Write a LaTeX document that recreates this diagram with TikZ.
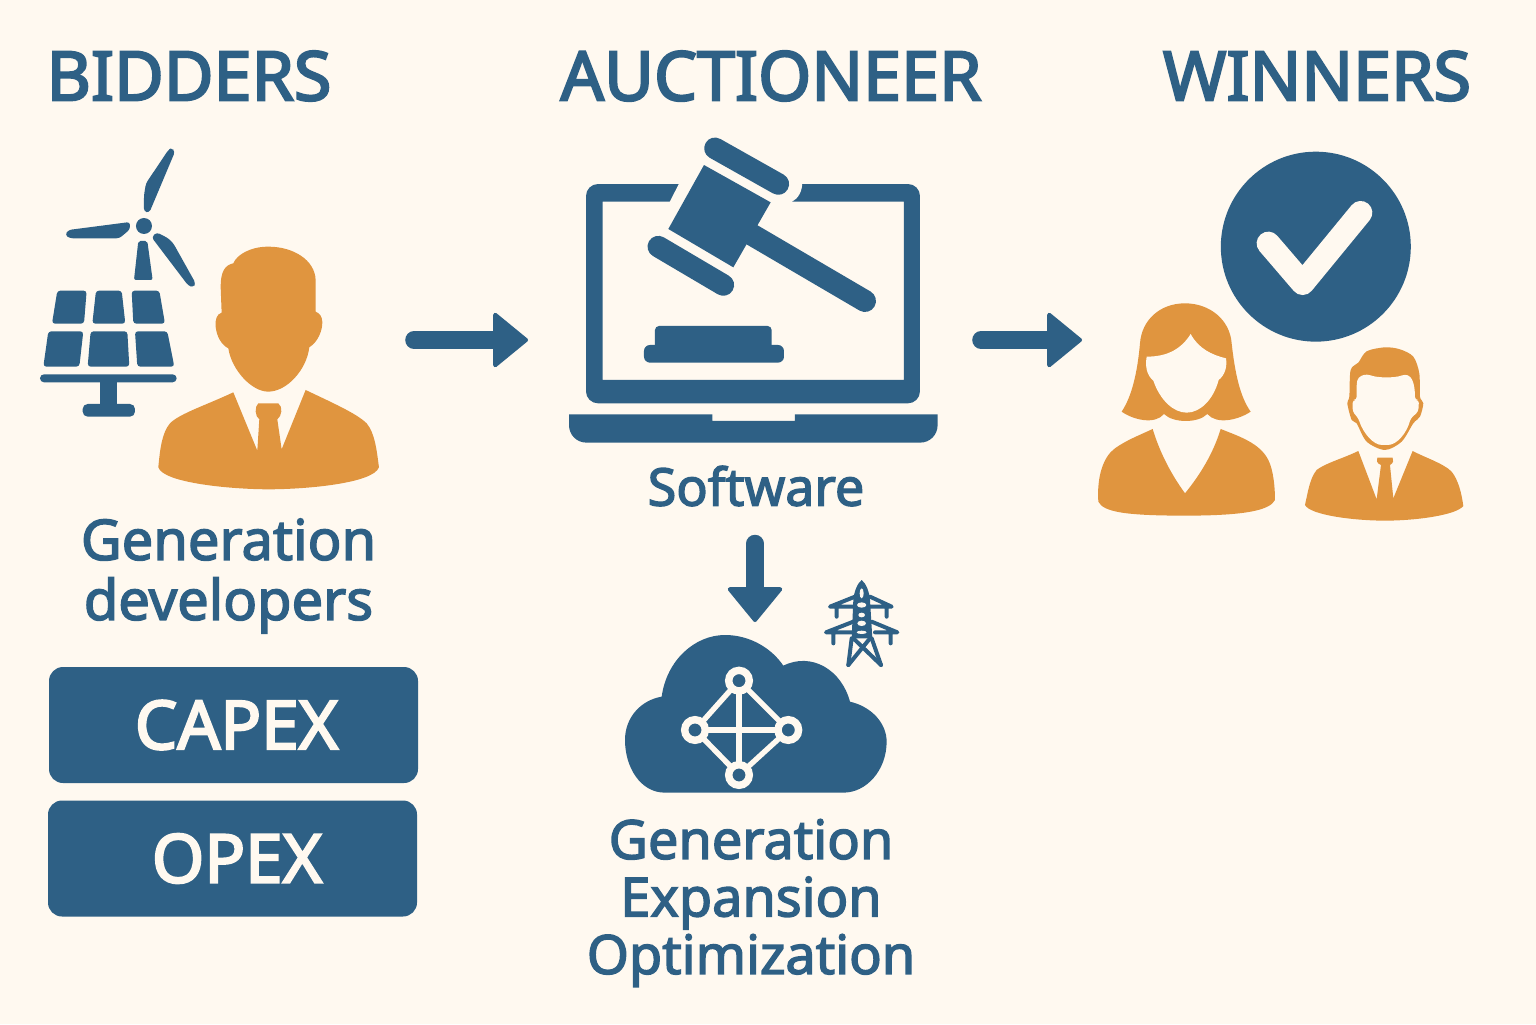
\documentclass[tikz,border=0pt]{standalone}
\usepackage{fontspec}
\setmainfont{Noto Sans}
\newfontfamily\semifont[FakeBold=2.6]{Noto Sans}
\newfontfamily\titlefont[FakeBold=3.2]{Noto Sans}
\usetikzlibrary{arrows.meta}
\definecolor{paper}{RGB}{255,249,240}
\definecolor{steel}{RGB}{46,96,133}
\definecolor{amber}{RGB}{224,149,63}
\begin{document}
\begin{tikzpicture}[x=0.5pt,y=-0.5pt,
    heading/.style={text=steel,font=\fontsize{34.1}{36}\selectfont\titlefont,inner sep=0pt},
    caption/.style={text=steel,align=center,inner sep=0pt,font=\fontsize{27}{28.75}\selectfont\semifont},
    costbox/.style={fill=steel,text=paper,rounded corners=7pt,minimum width=184.5pt,minimum height=58pt,inner sep=0pt,font=\fontsize{33.7}{36}\selectfont\titlefont},
    iconslot/.style={inner sep=0pt,outer sep=0pt},
    flowarrow/.style={steel,line width=8.8pt,line cap=round,-{Triangle[width=29pt,length=18pt,round,line width=2pt]}},
    netnode/.style={circle,draw=paper,fill=steel,line width=3.7pt,minimum size=10.3pt,inner sep=0pt,outer sep=0pt},
    netlink/.style={paper,line width=2.7pt},
    pad/.style={steel,line width=10.8pt,line cap=round},
    lattice/.style={steel,line width=2pt,line cap=round,line join=round},
    panel/.style={fill=steel,rounded corners=1.5pt}]
    \useasboundingbox (0,0) rectangle (1536,1024);
    \fill[paper] (0,0) rectangle (1536,1024);

    % Titulos
    \node[heading] (bidTitle) at (189,76) {BIDDERS};
    \node[heading] (aucTitle) at (771,76) {AUCTIONEER};
    \node[heading] (winTitle) at (1317,76) {WINNERS};

    % Zonas de iconos para las flechas
    \node[iconslot,minimum width=187pt,minimum height=20pt] (bidderIcon) at (227,340) {};
    \node[iconslot,minimum width=226.5pt,minimum height=20pt] (laptopIcon) at (754.5,340) {};
    \node[iconslot,minimum width=198pt,minimum height=20pt] (winnerIcon) at (1280,340) {};
    \node[iconslot,minimum width=130pt,minimum height=88pt] (cloudIcon) at (755,710) {};

    % Turbina y panel solar
    \begin{scope}[shift={(20,130)},scale=0.3333]
        \fill[steel] (372,288) circle (24);
        \fill[steel,rounded corners=1.5pt] (372,245) -- (372,195) -- (378,160) -- (445,60) -- (455,53) -- (465,65) -- (388,248) -- cycle;
        \fill[steel,rounded corners=1.5pt] (330,276) -- (330,298) -- (298,325) -- (150,325) -- (135,315) -- (145,300) -- cycle;
        \fill[steel,rounded corners=1.5pt] (410,307) -- (395,322) -- (505,467) -- (520,472) -- (527,460) -- (460,340) -- (445,325) -- cycle;
        \fill[steel,rounded corners=1pt] (355,333) -- (382,333) -- (398,450) -- (342,450) -- cycle;
        \path[panel] (112,482) -- (200,482) -- (192,581) -- (96,581) -- cycle;
        \path[panel] (228,482) -- (305,482) -- (316,581) -- (217,581) -- cycle;
        \path[panel] (335,482) -- (418,482) -- (435,581) -- (340,581) -- cycle;
        \path[panel] (85,604) -- (190,604) -- (178,710) -- (70,710) -- cycle;
        \path[panel] (212,604) -- (322,604) -- (328,710) -- (203,710) -- cycle;
        \path[panel] (345,604) -- (442,604) -- (463,710) -- (352,710) -- cycle;
        \fill[steel,rounded corners=2pt] (60,733) rectangle (470,757);
        \fill[steel] (240,750) rectangle (292,830);
        \fill[steel,rounded corners=2.5pt] (188,822) rectangle (345,860);

        % Promotor
        \fill[amber] (745,350) .. controls (690,350) and (650,375) .. (640,400) .. controls (615,405) and (602,425) .. (602,470) -- (605,548)
            .. controls (590,552) and (585,570) .. (587,590) .. controls (590,620) and (605,645) .. (625,655)
            .. controls (635,720) and (695,785) .. (745,785) .. controls (800,785) and (860,720) .. (868,652)
            .. controls (895,635) and (908,600) .. (907,575) .. controls (906,560) and (900,550) .. (887,545) -- (887,450)
            .. controls (885,390) and (820,350) .. (745,350) -- cycle;
        \fill[amber] (640,787) .. controls (560,825) and (480,850) .. (450,880) .. controls (425,910) and (420,960) .. (415,1012)
            .. controls (430,1060) and (640,1078) .. (745,1078) .. controls (860,1078) and (1060,1060) .. (1077,1012)
            .. controls (1070,960) and (1065,910) .. (1040,880) .. controls (1010,850) and (930,815) .. (857,780)
            -- (785,958) -- (772,868) .. controls (785,860) and (790,830) .. (775,820) -- (715,820)
            .. controls (703,830) and (705,860) .. (718,868) -- (712,962) -- cycle;
    \end{scope}

    % Portatil y mazo
    \begin{scope}[shift={(560,130)},scale=0.3333]
        \fill[steel,even odd rule,rounded corners=6pt] (78,162) rectangle (1080,820) [sharp corners] (128,215) rectangle (1032,750);
        \fill[paper] (360,155) -- (329,216) -- (695,216) .. controls (715,205) and (727,185) .. (727,155) -- cycle;
        \fill[steel] (27,853) -- (457,853) -- (457,873) -- (705,873) -- (705,853) -- (1133,853) -- (1133,885)
            .. controls (1133,915) and (1110,938) .. (1080,938) -- (80,938) .. controls (50,938) and (27,915) .. (27,885) -- cycle;
        \fill[steel] (432,105) -- (632,217) -- (520,412) -- (325,297) -- cycle;
        \draw[steel,line width=11pt,line cap=round] (560,305) -- (915,513);
        \draw[pad] (465,55) -- (655,162);
        \draw[pad] (295,350) -- (490,465);
        \fill[steel,rounded corners=2pt] (285,660) -- (285,588) -- (635,588) -- (635,660) -- cycle;
        \fill[steel,rounded corners=3pt] (252,645) rectangle (672,698);
    \end{scope}

    % Ganadores
    \begin{scope}[shift={(1080,140)},scale=0.3333]
        \fill[steel] (707.5,320) circle (285);
        \draw[paper,line width=11.7pt,line cap=round,line join=round] (565,310) -- (668,430) -- (842,218);
        % Mujer
        \fill[amber] (315,490) .. controls (240,490) and (185,540) .. (180,610) .. controls (172,700) and (155,770) .. (125,815)
            .. controls (160,840) and (225,855) .. (252,822) .. controls (280,850) and (355,850) .. (382,822)
            .. controls (410,855) and (475,840) .. (512,815) .. controls (480,770) and (465,700) .. (455,610)
            .. controls (450,540) and (390,490) .. (315,490) -- cycle;
        \fill[paper] (332,582) .. controls (305,625) and (265,650) .. (200,650) .. controls (195,680) and (200,705) .. (220,722)
            .. controls (240,780) and (280,818) .. (320,818) .. controls (360,818) and (400,780) .. (416,720)
            .. controls (435,705) and (442,680) .. (438,655) .. controls (395,645) and (355,625) .. (332,582) -- cycle;
        \fill[amber] (218,867) .. controls (240,940) and (275,1005) .. (315,1060) .. controls (360,1005) and (400,940) .. (422,867)
            .. controls (480,890) and (540,910) .. (565,960)
            .. controls (580,990) and (585,1040) .. (585,1080) .. controls (570,1110) and (500,1127) .. (315,1127)
            .. controls (130,1127) and (70,1115) .. (55,1085) .. controls (50,1010) and (70,950) .. (105,925)
            .. controls (140,900) and (180,885) .. (218,867) -- cycle;
        % Hombre
        \fill[amber] plot[smooth cycle] coordinates {(915,622) (860,634) (835,668) (812,690) (808,770) (802,790) (815,840) (830,850) (860,905) (915,930) (965,905) (1000,850) (1020,830) (1030,790) (1020,770) (1018,700) (1000,650) (960,628)};
        \fill[paper,rounded corners=1.5pt] (830,780) -- (830,730) .. controls (835,710) and (850,703) .. (870,705) .. controls (890,712) and (940,716) .. (975,703) .. controls (995,710) and (1005,730) .. (1005,780)
            -- (1017,780) -- (1015,815) -- (992,835) .. controls (980,880) and (950,915) .. (915,915) .. controls (880,915) and (850,880) .. (835,835) -- (818,815) -- (818,780) -- cycle;
        \fill[amber] (835,933) -- (890,1078) -- (903,975) .. controls (890,970) and (888,960) .. (892,953) -- (938,953) .. controls (942,960) and (940,970) .. (930,975)
            -- (940,1075) -- (998,933) .. controls (1040,955) and (1090,970) .. (1115,995) .. controls (1135,1020) and (1145,1060) .. (1150,1098)
            .. controls (1130,1125) and (1010,1142) .. (915,1142) .. controls (820,1142) and (690,1125) .. (675,1095)
            .. controls (685,1050) and (690,1015) .. (710,990) .. controls (735,970) and (790,955) .. (835,933) -- cycle;
    \end{scope}

    % Nube con la red
    \begin{scope}[shift={(610,570)},scale=0.3333]
        \fill[steel] (165,668) .. controls (90,668) and (45,590) .. (45,510) .. controls (45,440) and (95,390) .. (155,380)
            .. controls (170,270) and (255,195) .. (345,195) .. controls (420,195) and (485,235) .. (520,287)
            .. controls (605,245) and (695,300) .. (720,395) .. controls (785,410) and (830,460) .. (830,515)
            .. controls (830,600) and (770,668) .. (700,668) -- cycle;
        \node[netnode] (netTop) at (387,332) {};
        \node[netnode] (netLeft) at (255,480) {};
        \node[netnode] (netRight) at (535,480) {};
        \node[netnode] (netBottom) at (387,615) {};
    \end{scope}
    \draw[netlink] (netTop) -- (netRight);
    \draw[netlink] (netRight) -- (netBottom);
    \draw[netlink] (netBottom) -- (netLeft);
    \draw[netlink] (netLeft) -- (netTop);
    \draw[netlink] (netTop) -- (netBottom);
    \draw[netlink] (netLeft) -- (netRight);

    % Torre electrica
    \begin{scope}[shift={(820,575)},scale=0.3333]
        \fill[steel] (125,15) .. controls (138,25) and (148,50) .. (150,75) -- (157,190) -- (95,190) -- (100,75) .. controls (102,50) and (112,25) .. (125,15) -- cycle;
        \fill[paper] (125,55) ellipse (6 and 15);
        \fill[paper] (125,90) ellipse (14 and 8);
        \fill[paper] (125,120) ellipse (10 and 7);
        \fill[paper] (125,145) ellipse (13 and 8);
        \fill[paper] (125,172) ellipse (15 and 5);
        \draw[lattice] (95,190) -- (85,270) (155,190) -- (183,270);
        \draw[lattice] (100,190) -- (183,270) (150,190) -- (85,270);
        \draw[lattice] (105,65) -- (30,95) -- (100,95) (50,95) -- (50,125);
        \draw[lattice] (150,65) -- (215,95) -- (150,95) (200,95) -- (200,125);
        \draw[lattice] (100,140) -- (18,172) -- (95,172) (40,172) -- (40,205);
        \draw[lattice] (155,140) -- (232,172) -- (165,172) (212,172) -- (212,205);
    \end{scope}

    % Etiquetas
    \node[caption,font=\fontsize{28}{30}\selectfont\semifont] (devLabel) at (228.5,576) {Generation\\developers};
    \node[caption,font=\fontsize{26}{28}\selectfont\semifont] (softLabel) at (756,486) {Software};
    \node[caption] (optLabel) at (751,903) {Generation\\Expansion\\Optimization};
    \node[costbox] (capexBox) at (233.5,725) {\hspace{3pt}CAPEX};
    \node[costbox] (opexBox) at (232.5,858.5) {\hspace{4.5pt}OPEX};

    % Flechas
    \draw[flowarrow] (bidderIcon) -- (laptopIcon);
    \draw[flowarrow] (laptopIcon) -- (winnerIcon);
    \draw[flowarrow,shorten <=18.5pt] (softLabel.south -| cloudIcon.north) -- (cloudIcon.north);
\end{tikzpicture}
\end{document}
